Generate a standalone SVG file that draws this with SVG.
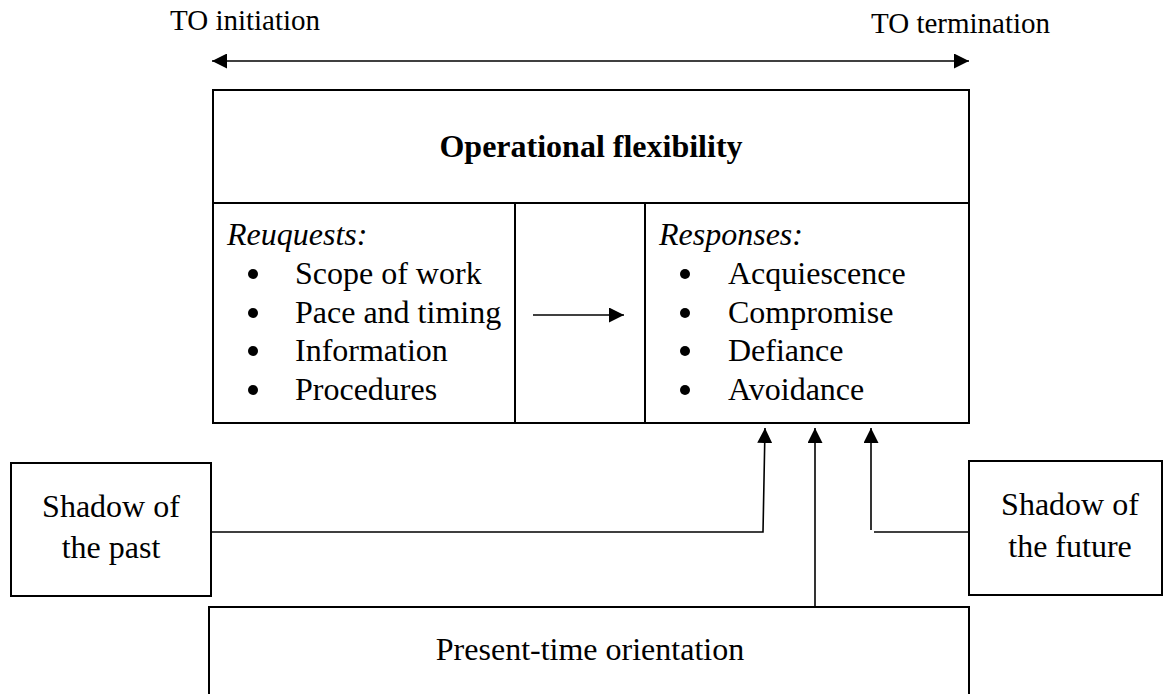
<svg xmlns="http://www.w3.org/2000/svg" width="1163" height="694" viewBox="0 0 1163 694">
  <style>
    text { font-family: "Liberation Serif", "Times New Roman", serif; fill: #000; }
    .lbl { font-size: 29px; }
    .body { font-size: 32px; }
    .title { font-size: 32px; font-weight: bold; }
    .it { font-size: 32px; font-style: italic; }
    .box { fill: #fff; stroke: #000; stroke-width: 2; }
    .rule { stroke: #000; stroke-width: 2; fill: none; }
    .conn { stroke: #000; stroke-width: 1.6; fill: none; }
  </style>
  <defs>
    <marker id="head" viewBox="0 0 10 10" refX="10" refY="5" markerWidth="15" markerHeight="15" markerUnits="userSpaceOnUse" orient="auto">
      <path d="M0,0 L10,5 L0,10 Z" fill="#000"/>
    </marker>
    <marker id="headStart" viewBox="0 0 10 10" refX="0" refY="5" markerWidth="15" markerHeight="15" markerUnits="userSpaceOnUse" orient="auto">
      <path d="M10,0 L0,5 L10,10 Z" fill="#000"/>
    </marker>
  </defs>

  <!-- timeline -->
  <g id="timeline">
    <text class="lbl" x="170" y="30">TO initiation</text>
    <text class="lbl" x="871" y="33">TO termination</text>
    <line class="conn" x1="212" y1="61" x2="969" y2="61" marker-start="url(#headStart)" marker-end="url(#head)"/>
  </g>

  <!-- main operational flexibility table -->
  <g id="operational-flexibility">
    <rect class="box" x="213" y="90" width="756" height="333"/>
    <line class="rule" x1="213" y1="203" x2="969" y2="203"/>
    <line class="rule" x1="515" y1="203" x2="515" y2="423"/>
    <line class="rule" x1="645" y1="203" x2="645" y2="423"/>
    <text class="title" x="591" y="157" text-anchor="middle">Operational flexibility</text>
  </g>

  <g id="requests">
    <text class="it" x="227" y="245">Reuquests:</text>
    <g fill="#000">
      <circle cx="253" cy="274" r="5"/>
      <circle cx="253" cy="313" r="5"/>
      <circle cx="253" cy="351" r="5"/>
      <circle cx="253" cy="390" r="5"/>
    </g>
    <text class="body" x="295" y="284">Scope of work</text>
    <text class="body" x="295" y="323">Pace and timing</text>
    <text class="body" x="295" y="361">Information</text>
    <text class="body" x="295" y="400">Procedures</text>
  </g>

  <g id="responses">
    <text class="it" x="659" y="245">Responses:</text>
    <g fill="#000">
      <circle cx="685" cy="274" r="5"/>
      <circle cx="685" cy="313" r="5"/>
      <circle cx="685" cy="351" r="5"/>
      <circle cx="685" cy="390" r="5"/>
    </g>
    <text class="body" x="728" y="284">Acquiescence</text>
    <text class="body" x="728" y="323">Compromise</text>
    <text class="body" x="728" y="361">Defiance</text>
    <text class="body" x="728" y="400">Avoidance</text>
  </g>

  <g id="shadow-past">
    <rect class="box" x="11" y="463" width="200" height="133"/>
    <text class="body" x="111" y="517" text-anchor="middle">Shadow of</text>
    <text class="body" x="111" y="558" text-anchor="middle">the past</text>
  </g>

  <g id="shadow-future">
    <rect class="box" x="969" y="461" width="193" height="134"/>
    <text class="body" x="1070" y="515" text-anchor="middle">Shadow of</text>
    <text class="body" x="1070" y="557" text-anchor="middle">the future</text>
  </g>

  <g id="present-time">
    <rect class="box" x="209" y="607" width="760" height="100"/>
    <text class="body" x="590" y="660" text-anchor="middle">Present-time orientation</text>
  </g>

  <!-- connectors -->
  <g id="connectors">
    <line class="conn" x1="533" y1="315" x2="624" y2="315" marker-end="url(#head)"/>
    <polyline class="conn" points="211,532 763,532 765,428" marker-end="url(#head)"/>
    <line class="conn" x1="815" y1="607" x2="815" y2="428" marker-end="url(#head)"/>
    <line class="conn" x1="969" y1="532" x2="874" y2="532"/>
    <line class="conn" x1="871" y1="530" x2="871" y2="428" marker-end="url(#head)"/>
  </g>
</svg>
